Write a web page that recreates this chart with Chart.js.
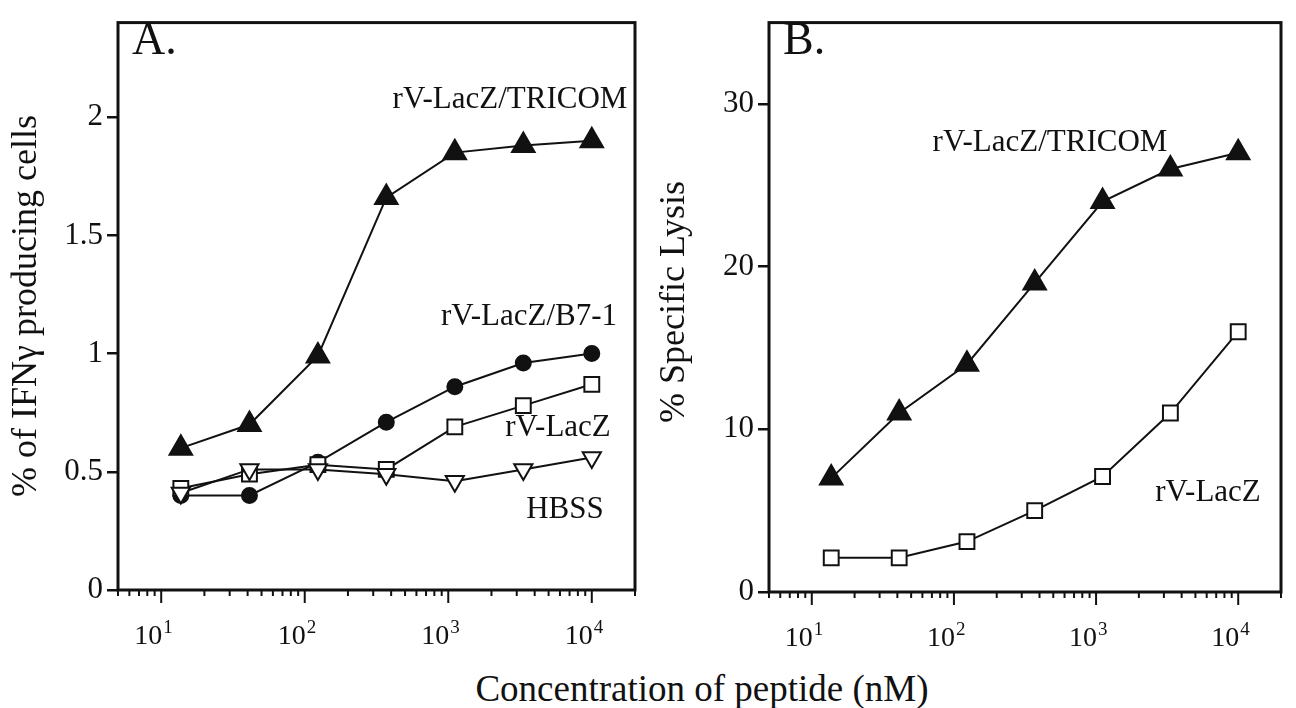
<!DOCTYPE html>
<html>
<head>
<meta charset="utf-8">
<script src="https://cdn.jsdelivr.net/npm/chart.js@4/dist/chart.umd.min.js"></script>
<style>
  body { margin: 0; background: #fff; }
  #wrap { position: relative; width: 1296px; height: 708px; overflow: hidden; }
  canvas { position: absolute; top: 0; }
  #chartA { left: 0; }
  #chartB { left: 650px; }
  #xTitle { position: absolute; left: 54px; width: 1296px; top: 667px; text-align: center;
            font: 37px 'Liberation Serif', 'Times New Roman', serif; line-height: 44px; color: #111; }
</style>
</head>
<body>
<div id="wrap">
  <canvas id="chartA" width="650" height="660"></canvas>
  <canvas id="chartB" width="646" height="660"></canvas>
  <div id="xTitle">Concentration of peptide (nM)</div>
</div>
<script>
// peptide concentrations (nM), 3-fold dilutions
const concentrations = [13.7, 41.2, 123.5, 370, 1111, 3333, 10000];

// A. % of IFNγ producing cells
const ifnTricom = [0.60, 0.70, 0.99, 1.66, 1.85, 1.88, 1.90];
const ifnB71    = [0.40, 0.40, 0.54, 0.71, 0.86, 0.96, 1.00];
const ifnLacZ   = [0.43, 0.49, 0.53, 0.51, 0.69, 0.78, 0.87];
const ifnHbss   = [0.41, 0.51, 0.51, 0.49, 0.46, 0.51, 0.56];

// B. % specific lysis
const lysisTricom = [7, 11, 14, 19, 24, 26, 27];
const lysisLacZ   = [2.1, 2.1, 3.1, 5.0, 7.1, 11, 16];

// axis ticks
const xExponents = [1, 2, 3, 4];
const yTicksA = [0, 0.5, 1, 1.5, 2];
const yTicksB = [0, 10, 20, 30];

const FONT = "'Liberation Serif', 'Times New Roman', serif";
const INK = '#111';

// box, log ticks, 10^n labels and texts inside the panel
const frame = {
    id: 'frame',
    afterDraw(chart, args, opts) {
        const { ctx, chartArea: a } = chart;
        const x = chart.scales.x;
        ctx.save();
        ctx.strokeStyle = INK;
        ctx.fillStyle = INK;
        ctx.lineWidth = 3;
        ctx.strokeRect(a.left, a.top, a.right - a.left, a.bottom - a.top);

        ctx.lineWidth = 2;
        for (let e = 0; e <= 4; e++) {
            for (let k = 1; k <= 9; k++) {
                const v = k * Math.pow(10, e);
                if (v < x.min || v > x.max) continue;
                const px = x.getPixelForValue(v);
                ctx.beginPath();
                ctx.moveTo(px, a.bottom);
                ctx.lineTo(px, a.bottom + (k === 1 ? 13 : 6));
                ctx.stroke();
            }
        }

        ctx.textBaseline = 'alphabetic';
        xExponents.forEach(n => {
            const px = x.getPixelForValue(Math.pow(10, n));
            ctx.font = `28px ${FONT}`;
            ctx.textAlign = 'right';
            ctx.fillText('10', px + 1, a.bottom + 54);
            ctx.font = `19px ${FONT}`;
            ctx.textAlign = 'left';
            ctx.fillText(String(n), px + 2, a.bottom + 43);
        });

        ctx.textBaseline = 'middle';
        ctx.textAlign = 'left';
        ctx.font = `46px ${FONT}`;
        ctx.fillText(opts.letter, a.left + 14, 42);

        ctx.textAlign = 'center';
        ctx.font = `31px ${FONT}`;
        opts.labels.forEach(l => ctx.fillText(l.text, l.x, l.y));

        ctx.save();
        ctx.translate(opts.titleX, opts.titleY);
        ctx.rotate(-Math.PI / 2);
        ctx.font = `36px ${FONT}`;
        ctx.fillText(opts.yTitle, 0, 0);
        ctx.restore();

        ctx.restore();
    }
};

function series(values, style) {
    return Object.assign({
        data: concentrations.map((c, i) => ({ x: c, y: values[i] })),
        borderColor: INK,
        borderWidth: 2,
        pointBorderColor: INK,
        pointBorderWidth: 2,
        pointHoverRadius: 0,
        tension: 0,
        clip: false
    }, style);
}

const filledTri = { pointStyle: 'triangle', pointRadius: 13, pointBackgroundColor: INK };
const filledDot = { pointStyle: 'circle', pointRadius: 7.5, pointBackgroundColor: INK };
const openSquare = { pointStyle: 'rect', pointRadius: 10.5, pointBackgroundColor: '#fff' };
const openDownTri = { pointStyle: 'triangle', pointRotation: 180, pointRadius: 10.5, pointBackgroundColor: '#fff' };

function options(yMax, yTicks, yWidth, xHeight, padRight, frameOpts) {
    return {
        responsive: false,
        animation: false,
        events: [],
        layout: { padding: { top: 7, right: padRight, left: 0, bottom: 0 } },
        scales: {
            x: {
                type: 'logarithmic',
                min: 5, max: 20000,
                ticks: { display: false },
                grid: { display: false },
                border: { display: false },
                afterFit: s => { s.height = xHeight; }
            },
            y: {
                min: 0, max: yMax,
                afterBuildTicks: s => { s.ticks = yTicks.map(v => ({ value: v })); },
                ticks: {
                    color: INK,
                    padding: 4,
                    font: { family: FONT, size: 31 },
                    callback: v => String(v)
                },
                grid: { drawOnChartArea: false, drawTicks: true, tickLength: 11, color: INK, lineWidth: 2.5 },
                border: { display: false },
                afterFit: s => { s.width = yWidth; }
            }
        },
        plugins: { legend: { display: false }, tooltip: { enabled: false }, frame: frameOpts }
    };
}

new Chart(document.getElementById('chartA'), {
    type: 'line',
    data: {
        datasets: [
            series(ifnTricom, Object.assign({ order: 3 }, filledTri)),
            series(ifnB71, Object.assign({ order: 2 }, filledDot)),
            series(ifnLacZ, Object.assign({ order: 1 }, openSquare)),
            series(ifnHbss, Object.assign({ order: 0 }, openDownTri))
        ]
    },
    options: options(2.4, yTicksA, 118, 70, 11, {
        letter: 'A.',
        yTitle: '% of IFNγ producing cells',
        titleX: 27, titleY: 306,
        labels: [
            { text: 'rV-LacZ/TRICOM', x: 510, y: 100 },
            { text: 'rV-LacZ/B7-1', x: 529, y: 317 },
            { text: 'rV-LacZ', x: 558, y: 428 },
            { text: 'HBSS', x: 565, y: 510 }
        ]
    }),
    plugins: [frame]
});

new Chart(document.getElementById('chartB'), {
    type: 'line',
    data: {
        datasets: [
            series(lysisTricom, filledTri),
            series(lysisLacZ, openSquare)
        ]
    },
    options: options(35, yTicksB, 119, 68, 6, {
        letter: 'B.',
        yTitle: '% Specific Lysis',
        titleX: 25, titleY: 302,
        labels: [
            { text: 'rV-LacZ/TRICOM', x: 400, y: 143 },
            { text: 'rV-LacZ', x: 558, y: 493 }
        ]
    }),
    plugins: [frame]
});
</script>
</body>
</html>
